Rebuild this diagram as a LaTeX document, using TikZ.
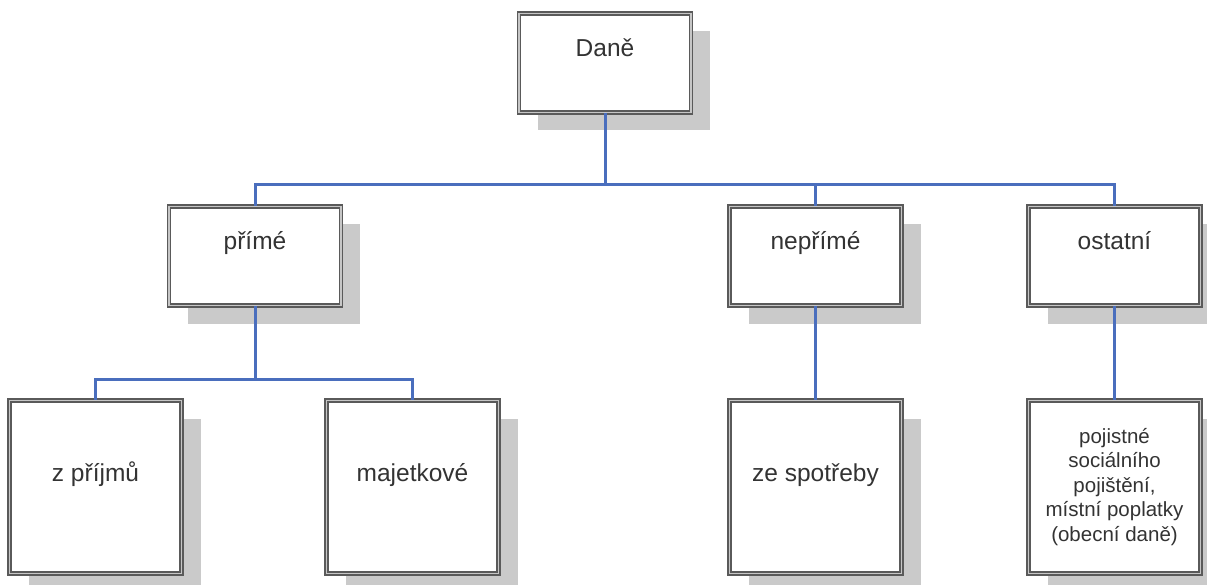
\documentclass[tikz,border=0pt]{standalone}
\usepackage{fontspec}
\setmainfont{Liberation Sans}
\usetikzlibrary{shadows}
\definecolor{linkblue}{RGB}{74,110,189}
\definecolor{framegray}{RGB}{90,90,90}
\definecolor{shadegray}{RGB}{202,202,202}

\begin{document}
\begin{tikzpicture}[x=1pt, y=-1pt,
	box/.style={draw=framegray, double=gray!45, double distance=1.3pt, line width=1.5pt, fill=white,
		general shadow={fill=shadegray, shadow xshift=19pt, shadow yshift=-18pt},
		minimum width=172pt, inner sep=0pt, text=black!80, font=\fontsize{24.5}{29}\selectfont},
	upper/.style={box, minimum height=99pt},
	lower/.style={box, minimum height=173pt},
	lifted/.style={text height=18pt, text depth=30pt},
	link/.style={linkblue, line width=3pt}]

	\useasboundingbox (0,0) rectangle (1207,585);

	\node[upper, lifted] (dane) at (605,63) {Daně};

	\node[upper, lifted] (prime) at (255,256) {přímé};
	\node[upper, lifted] (neprime) at (815.5,256) {nepřímé};
	\node[upper, lifted] (ostatni) at (1114.5,256) {ostatní};

	\node[lower, lifted] (prijmy) at (95.5,487) {z příjmů};
	\node[lower, lifted] (majetek) at (412.5,487) {majetkové};
	\node[lower, lifted] (spotreba) at (815.5,487) {ze spotřeby};
	\node[lower, align=center, font=\fontsize{20.5}{24.5}\selectfont] (pojistne) at (1114.5,487)
		{pojistné\\sociálního\\pojištění,\\místní poplatky\\(obecní daně)};

	% sběrnice mezi úrovněmi
	\coordinate (bus top) at (605,185);
	\coordinate (bus low) at (255,379);

	\draw[link] (dane.south) -- (bus top);
	\foreach \c in {prime,neprime,ostatni}
		\draw[link] (bus top) -| (\c.north);

	\draw[link] (prime.south) -- (bus low);
	\foreach \c in {prijmy,majetek}
		\draw[link] (bus low) -| (\c.north);

	\draw[link] (neprime.south) -- (spotreba.north);
	\draw[link] (ostatni.south) -- (pojistne.north);

\end{tikzpicture}
\end{document}
